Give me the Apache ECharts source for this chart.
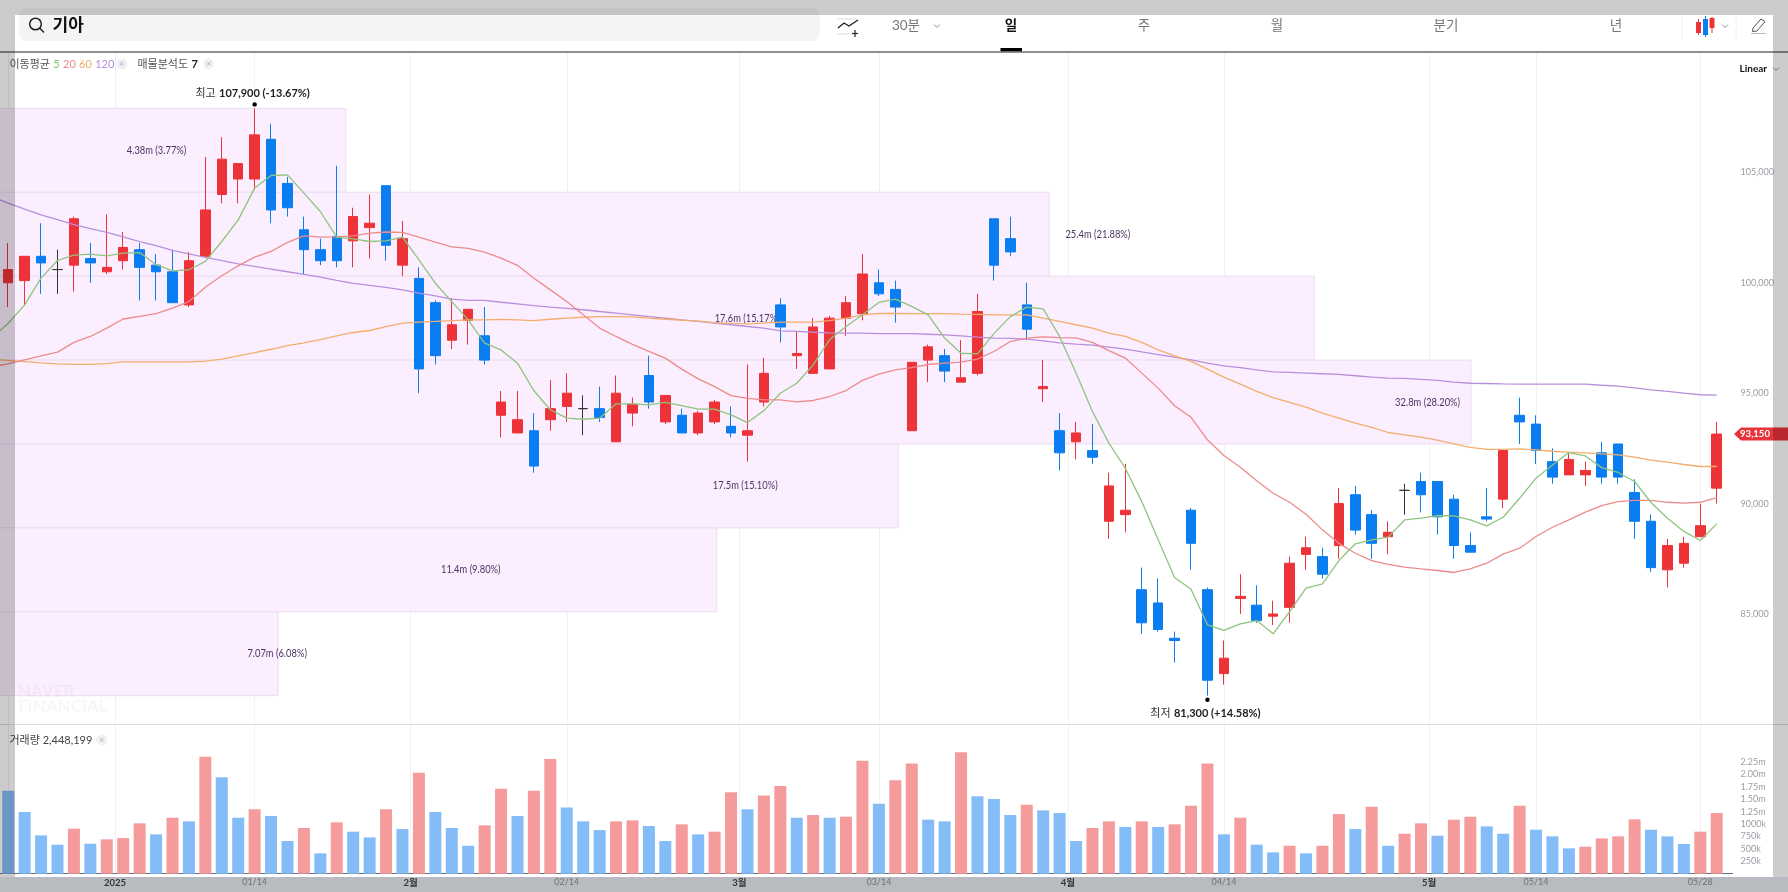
<!DOCTYPE html>
<html>
<head>
<meta charset="utf-8">
<title>기아</title>
<style>
	html, body { margin: 0; padding: 0; background: #fff; }
	#main { width: 1788px; height: 892px; }
</style>
<script src="https://cdn.jsdelivr.net/npm/echarts@6/dist/echarts.min.js"></script>
</head>
<body>
<div id="main"></div>
<script>
// 일봉 시가/종가/저가/고가
var candleOpen = [100000,100100,101200,100600,100800,101100,100500,101000,101500,100800,100500,99000,101200,104000,104700,104700,106500,104500,102400,101500,
	102100,101900,102500,104400,100800,100200,99100,97400,98300,97600,94000,93200,93300,93800,94400,94300,94300,92800,94100,95800,
	93700,94000,93200,93700,93500,93100,94600,99000,96700,95900,96100,98400,98600,100000,99700,93300,96500,96700,95500,95900,
	102900,102000,99000,95200,93300,92800,92400,89200,89500,86100,85500,83900,89700,86100,82300,85700,85400,84900,85300,87700,
	87600,88100,90400,89500,88500,90600,91000,91000,90200,88100,89400,90200,94000,93600,91900,91300,91300,92300,92700,90500,
	89200,87000,87300,88500,90700];
var candleClose = [100600,101200,100900,100600,102900,100900,100700,101600,100700,100500,99100,101000,103300,105600,105400,106700,103300,103400,101500,101000,
	101000,103000,102700,101700,102000,96100,96700,98100,98800,96500,94600,93800,91700,94300,95000,94300,93900,95000,94500,94600,
	94900,93200,94100,94600,93200,93300,95900,98000,96800,98000,98400,99100,100400,99500,98900,96400,97100,96000,95700,98700,
	100800,101400,97900,95300,92300,93200,92100,90800,89700,84600,84300,83800,88200,82000,83000,85800,84700,85000,87300,88000,
	86800,90000,88800,88200,88700,90600,90400,89400,88100,87800,89300,92400,93700,92400,91200,92000,91500,91200,91200,89200,
	87100,88100,88200,89000,93150];
var candleLow = [98900,99000,99500,99500,99600,100000,100400,100600,99200,99200,99100,98900,101200,103600,103600,104200,102700,103000,100400,100800,
	100700,100700,101100,101000,100300,95000,96300,97000,97200,96300,93000,93200,91400,93300,93700,93100,93700,92800,93500,94300,
	93600,93200,93100,93600,93000,91900,94400,97300,96100,95900,96100,97600,98300,99400,98200,93300,95500,95500,95500,95800,
	100100,101200,97400,94600,91500,92000,91800,88400,88700,84100,84200,82800,87000,81300,81800,85000,84600,84500,84600,87000,
	86600,87500,88600,87500,87700,89500,89600,88600,87500,87800,89200,89800,92700,91800,90900,91300,90800,90900,90900,88400,
	86900,86200,87100,88500,90000];
var candleHigh = [101800,101200,102700,101500,103000,101800,103100,102300,101800,101300,101500,101400,105700,106600,105400,107900,107200,104800,103000,102000,
	105300,103400,104000,104400,102800,100700,99200,99300,98800,98900,95100,95100,94100,95600,95900,94900,95300,95800,94800,96700,
	94900,94300,94200,94700,94400,96300,96600,99300,97800,98400,98500,99400,101300,100600,100100,96400,97200,97000,97400,99500,
	102900,103000,100000,96500,94100,93700,93600,91400,91800,87100,86600,84200,89800,86200,83800,86800,86300,85600,87600,88500,
	88000,90700,90800,89700,89200,90900,91400,91000,90400,88700,90700,92400,94800,94000,92500,92300,91900,92800,92700,91100,
	89500,88400,88500,90000,93700];

// 이동평균 5, 20, 60, 120 (첫 값은 화면 왼쪽 밖의 봉)
var ma5 = [97500,98170,99000,100210,101010,101250,101300,101220,101340,101370,100820,100540,100590,100970,101870,102850,104290,104860,104890,104060,103230,
	102070,101990,101870,101900,102070,101040,99980,99150,98320,97270,96960,96360,95110,94250,93870,93820,93870,94520,94520,94470,
	94580,94440,94280,94280,94020,93670,94210,95000,95450,96280,97420,98020,98550,99110,99260,98930,98550,97500,96810,96780,
	97700,98470,98900,98820,97570,95910,94170,92740,91600,90090,88360,86650,86120,84510,84260,84550,84700,84100,85110,86170,
	86360,87420,88180,88360,88480,89260,89340,89460,89440,89260,88990,89380,90240,91150,91750,92310,92160,91630,91410,91000,
	90050,89340,88740,88330,89080];
var ma20 = [96200,96330,96510,96690,96860,97300,97570,97950,98360,98480,98600,98850,99150,99800,100320,100770,101160,101420,101830,102130,102070,
	102080,102130,102250,102300,102280,102070,101840,101630,101560,101390,101120,100790,100210,99680,99150,98550,97950,97570,97210,96890,
	96590,96090,95650,95300,94890,94770,94700,94700,94610,94670,94850,95120,95580,95860,96060,96160,96300,96360,96410,96540,
	96890,97340,97490,97550,97520,97510,97300,96930,96590,95910,95230,94430,93910,92890,92180,91650,91030,90470,90060,89520,
	88810,88200,87750,87420,87250,87120,87040,86970,86880,87040,87300,87710,87980,88510,88930,89260,89610,89910,90090,90150,
	90150,90060,90020,90060,90270];
var ma60 = [96530,96480,96430,96370,96330,96310,96310,96340,96420,96420,96420,96420,96420,96450,96540,96690,96840,96990,97150,97280,97430,
	97600,97750,97840,98020,98170,98220,98250,98290,98320,98320,98340,98320,98290,98350,98400,98440,98470,98470,98460,98400,
	98350,98310,98260,98200,98160,98140,98170,98220,98220,98220,98290,98400,98550,98610,98610,98600,98600,98600,98580,98570,
	98550,98550,98550,98400,98250,98100,97950,97720,97570,97300,96960,96690,96440,96090,95730,95410,95080,94800,94590,94370,
	94100,93870,93640,93450,93220,93110,93010,92870,92710,92550,92460,92460,92480,92430,92370,92330,92300,92250,92210,92100,
	91970,91880,91770,91680,91680];
var ma120 = [103900,103610,103340,103080,102860,102630,102450,102280,102080,101860,101680,101470,101310,101150,101000,100860,100740,100620,100500,100380,100260,
	100110,99970,99880,99790,99680,99530,99410,99260,99200,99200,99120,99050,98970,98900,98840,98780,98700,98630,98550,98470,
	98400,98320,98250,98170,98100,98020,97950,97820,97800,97760,97730,97720,97720,97700,97700,97700,97670,97640,97600,97540,
	97490,97480,97450,97370,97280,97220,97180,97090,97000,96870,96750,96630,96510,96360,96240,96160,96060,95970,95940,95910,
	95880,95850,95790,95730,95680,95670,95630,95580,95500,95450,95440,95420,95410,95410,95410,95410,95410,95360,95320,95240,
	95150,95080,95000,94930,94910];

// 거래량, 막대 색 구분 (1 상승 / 0 하락)
var volume = [1673000,1243000,773000,585000,907000,605000,692000,719000,1015000,793000,1129000,1055000,2359000,1942000,1129000,1297000,1163000,659000,921000,410000,
	1035000,847000,732000,1297000,900000,2036000,1243000,921000,564000,974000,1714000,1163000,1673000,2312000,1337000,1055000,880000,1055000,1075000,961000,
	659000,995000,793000,847000,1640000,1297000,1579000,1767000,1129000,1183000,1129000,1149000,2278000,1411000,1882000,2224000,1089000,1055000,2446000,1559000,
	1505000,1183000,1391000,1277000,1223000,659000,921000,1055000,941000,1055000,941000,995000,1371000,2224000,793000,1129000,585000,430000,564000,410000,
	564000,1203000,900000,1351000,564000,806000,1015000,766000,1089000,1149000,954000,806000,1371000,887000,753000,511000,544000,712000,753000,1095000,
	887000,753000,598000,847000,1223000];
var volumeUp = [0,0,0,0,1,0,1,1,1,0,1,0,1,0,0,1,0,0,1,0,
	1,0,0,1,0,1,0,0,0,1,1,0,1,1,0,0,0,1,1,0,
	0,1,0,1,1,0,1,1,0,1,0,1,1,0,1,1,0,0,1,0,
	0,0,1,0,0,0,1,1,0,1,0,1,1,1,0,1,0,0,1,0,
	1,1,0,1,0,1,1,0,1,1,0,0,1,0,0,0,1,1,1,1,
	0,0,0,1,1];

// 축 눈금
var dateTicks = [6.5,15,24.5,34,44.5,53,64.5,74,86.5,93,103];
var dateLabels = ['2025','01/14','2월','02/14','3월','03/14','4월','04/14','5월','05/14','05/28'];
var priceTicks = [85000,90000,95000,100000,105000];
var priceLabels = ['85,000','90,000','95,000','100,000','105,000'];
var volumeTicks = [250000,500000,750000,1000000,1250000,1500000,1750000,2000000,2250000];
var volumeLabels = ['250k','500k','750k','1000k','1.25m','1.50m','1.75m','2.00m','2.25m'];

// 매물분석도 (가격 구간, 막대 끝, 라벨 위치, 라벨)
var profileLow = [104100,100300,96500,92700,88900,85100,81300];
var profileHigh = [107900,104100,100300,96500,92700,88900,85100];
var profileEnd = [20.55,63.37,79.5,89.04,54.18,43.13,16.43];
var profileLabelAt = [9.03,66.33,44.98,86.4,44.86,28.16,16.37];
var profileLabels = ['4.38m (3.77%)','25.4m (21.88%)','17.6m (15.17%)','32.8m (28.20%)','17.5m (15.10%)','11.4m (9.80%)','7.07m (6.08%)'];

var extremes = [[15,107900,'최고','107,900 (-13.67%)'],[73,81300,'최저','81,300 (+14.58%)']];
var lastPrice = [[104,93150,'93,150']];
var tabNames = ['30분','일','주','월','분기','년'];

var FONT = 'Lato, "Noto Sans CJK KR", sans-serif';
var xMin = -0.5;
var xMax = 104.96;

var chart = null;

init();

function init() {
	chart = echarts.init(document.getElementById('main'));
	chart.setOption(buildOption());
}

function buildOption() {
	var candles = candleOpen.map(function (o, i) {
		return [i, o, candleClose[i], candleLow[i], candleHigh[i]];
	});
	var volumeBars = volume.map(function (v, i) {
		return { value: [i, v], itemStyle: { color: volumeUp[i] ? '#f59b9c' : '#84bcf8' } };
	});
	var profile = profileLow.map(function (low, i) {
		return [low, profileHigh[i], profileEnd[i], profileLabelAt[i]];
	});

	return {
		animation: false,
		backgroundColor: '#fff',
		textStyle: { fontFamily: FONT },
		grid: [
			{ left: -1.32, right: 55.5, top: 51.7, height: 672.6 },
			{ left: -1.32, right: 55.5, top: 724.3, height: 149.4 }
		],
		xAxis: [
			dateAxis(0, false),
			dateAxis(1, true)
		],
		yAxis: [
			{
				gridIndex: 0, type: 'value', position: 'right', scale: true,
				min: 80004, max: 110467,
				splitLine: { show: false },
				axisLine: { show: true, lineStyle: { color: '#eceef1' } },
				axisTick: { show: true, length: 3, inside: false, customValues: priceTicks, lineStyle: { color: '#e0e2e6' } },
				axisLabel: {
					customValues: priceTicks, color: '#9a9da4', fontSize: 9, margin: 8, fontFamily: FONT,
					formatter: function (v) { return priceLabels[priceTicks.indexOf(v)]; }
				}
			},
			{
				gridIndex: 1, type: 'value', position: 'right',
				min: 0, max: 3012000,
				splitLine: { show: false },
				axisLine: { show: true, lineStyle: { color: '#eceef1' } },
				axisTick: { show: false, customValues: volumeTicks },
				axisLabel: {
					customValues: volumeTicks, color: '#9a9da4', fontSize: 9, margin: 8, fontFamily: FONT,
					formatter: function (v) { return volumeLabels[volumeTicks.indexOf(v)]; }
				}
			}
		],
		series: [
			{
				type: 'custom', name: '매물분석도', z: 1, xAxisIndex: 0, yAxisIndex: 0,
				data: profile, renderItem: renderProfile, silent: true
			},
			{
				type: 'candlestick', name: '기아', xAxisIndex: 0, yAxisIndex: 0, z: 3,
				barWidth: 10,
				data: candles,
				itemStyle: {
					color: '#ee3338', color0: '#0a7df0',
					borderColor: '#ee3338', borderColor0: '#0a7df0', borderColorDoji: '#333',
					borderWidth: 1
				}
			},
			maLine('MA120', ma120, '#b98fdc'),
			maLine('MA60', ma60, '#f4ad6d'),
			maLine('MA20', ma20, '#ec8b8c'),
			maLine('MA5', ma5, '#8fc47f'),
			{
				type: 'custom', name: '최고최저', z: 6, xAxisIndex: 0, yAxisIndex: 0,
				data: extremes, renderItem: renderExtreme, silent: true
			},
			{
				type: 'custom', name: '현재가', z: 7, xAxisIndex: 0, yAxisIndex: 0,
				data: lastPrice, renderItem: renderLastPrice, silent: true
			},
			{
				type: 'bar', name: '거래량', xAxisIndex: 1, yAxisIndex: 1, z: 2,
				barWidth: 12,
				data: volumeBars
			}
		],
		graphic: { elements: buildHeader().concat(buildLegends(), buildOverlay()) }
	};
}

function dateAxis(gridIndex, showLabel) {
	return {
		gridIndex: gridIndex, type: 'value', min: xMin, max: xMax,
		splitLine: { show: true, lineStyle: { color: '#f1f2f5', width: 1 } },
		axisLine: { show: showLabel, onZero: false, lineStyle: { color: '#66707c', width: 1 } },
		axisTick: { show: false, customValues: dateTicks },
		axisLabel: {
			show: showLabel, customValues: dateTicks, margin: 4, fontSize: 9, color: '#8c8f94', fontFamily: FONT,
			formatter: function (v) {
				var s = dateLabels[dateTicks.indexOf(v)];
				return s.indexOf('/') > 0 ? s : '{b|' + s + '}';
			},
			rich: { b: { fontWeight: 'bold', color: '#444', fontSize: 9.5, fontFamily: FONT } }
		}
	};
}

function maLine(name, values, color) {
	return {
		type: 'line', name: name, xAxisIndex: 0, yAxisIndex: 0, z: 4,
		symbol: 'none', smooth: false,
		lineStyle: { color: color, width: 1.3 },
		data: values.map(function (v, i) { return [i - 1, v]; })
	};
}

function renderProfile(params, api) {
	var low = api.value(0), high = api.value(1);
	var tl = api.coord([xMin, high]);
	var br = api.coord([api.value(2), low]);
	var c = api.coord([api.value(3), (low + high) / 2]);
	return {
		type: 'group',
		children: [
			{
				type: 'rect',
				shape: { x: tl[0] - 2, y: tl[1], width: br[0] - tl[0] + 2, height: br[1] - tl[1] },
				style: { fill: '#fbeefe', stroke: '#eddcf3', lineWidth: 1 }
			},
			{
				type: 'text', x: c[0], y: c[1], scaleX: 0.85,
				style: {
					text: profileLabels[params.dataIndex], fill: '#4f3564', font: '11px ' + FONT,
					align: 'center', verticalAlign: 'middle'
				}
			}
		]
	};
}

function renderExtreme(params, api) {
	var p = api.coord([api.value(0), api.value(1)]);
	var row = extremes[params.dataIndex];
	var isTop = params.dataIndex === 0;
	return {
		type: 'group',
		children: [
			{ type: 'circle', shape: { cx: p[0], cy: p[1] + (isTop ? -4 : 4), r: 2.2 }, style: { fill: '#000' } },
			{
				type: 'text', x: p[0] - 2, y: p[1] + (isTop ? -15 : 18),
				style: {
					text: '{a|' + row[2] + '} {b|' + row[3] + '}',
					align: 'center', verticalAlign: 'middle',
					rich: {
						a: { font: '11px ' + FONT, fill: '#333' },
						b: { font: 'bold 11px ' + FONT, fill: '#222' }
					}
				}
			}
		]
	};
}

function renderLastPrice(params, api) {
	var y = api.coord([xMax, api.value(1)]);
	var x0 = y[0] + 1.5;
	return {
		type: 'group',
		children: [
			{
				type: 'polygon',
				shape: { points: [[x0, y[1]], [x0 + 7, y[1] - 6.5], [1790, y[1] - 6.5], [1790, y[1] + 6.5], [x0 + 7, y[1] + 6.5]] },
				style: { fill: '#e9333a' }
			},
			{
				type: 'text', x: x0 + 21, y: y[1],
				style: { text: lastPrice[0][2], fill: '#fff', font: 'bold 9.5px ' + FONT, align: 'center', verticalAlign: 'middle' }
			}
		]
	};
}

function txt(x, y, text, font, fill, align) {
	return {
		type: 'text', x: x, y: y, z: 50,
		style: { text: text, font: font + ' ' + FONT, fill: fill, align: align || 'center', verticalAlign: 'middle' }
	};
}

function ln(x1, y1, x2, y2, color, w) {
	return { type: 'line', z: 50, shape: { x1: x1, y1: y1, x2: x2, y2: y2 }, style: { stroke: color, lineWidth: w || 1 } };
}

function chevron(x, y, color) {
	return { type: 'polyline', z: 50, shape: { points: [[x - 3, y - 1.5], [x, y + 1.5], [x + 3, y - 1.5]] }, style: { stroke: color, fill: null, lineWidth: 1 } };
}

function buildHeader() {
	var tabX = [906, 1011, 1144, 1277, 1446, 1616];
	var list = [
		{ type: 'rect', z: 40, shape: { x: 19, y: 8, width: 801, height: 33, r: 8 }, style: { fill: '#f3f4f6' } },
		{ type: 'circle', z: 50, shape: { cx: 35.5, cy: 24, r: 5.8 }, style: { stroke: '#222', fill: null, lineWidth: 1.5 } },
		ln(39.8, 28.3, 44, 32.5, '#222', 1.5),
		txt(52.5, 26, '기아', 'bold 17px', '#111', 'left'),
		// 비교 차트 아이콘
		{ type: 'polyline', z: 50, shape: { points: [[838, 28], [844, 23], [849, 26], [858, 20]] }, style: { stroke: '#222', fill: null, lineWidth: 1.4 } },
		ln(837, 19, 858, 19, '#ddd'),
		ln(837, 34, 851, 34, '#ddd'),
		ln(855, 37, 855, 30, '#222', 1.2),
		ln(852, 33.5, 858, 33.5, '#222', 1.2),
		chevron(937, 26, '#8d9096'),
		{ type: 'rect', z: 50, shape: { x: 1000.5, y: 48, width: 21.5, height: 3.6 }, style: { fill: '#000' } },
		// 봉 차트 아이콘
		ln(1682, 15, 1682, 40, '#f1f2f4'),
		ln(1736, 15, 1736, 40, '#f1f2f4'),
		ln(1698.5, 19, 1698.5, 35, '#ee3338'),
		{ type: 'rect', z: 50, shape: { x: 1696, y: 22, width: 5, height: 11 }, style: { fill: '#ee3338' } },
		ln(1705.5, 16, 1705.5, 37, '#0a7df0'),
		{ type: 'rect', z: 50, shape: { x: 1703, y: 19, width: 5, height: 16 }, style: { fill: '#0a7df0' } },
		ln(1712, 17, 1712, 33, '#ee3338'),
		{ type: 'rect', z: 50, shape: { x: 1709.5, y: 18, width: 5, height: 10 }, style: { fill: '#ee3338' } },
		chevron(1725, 26, '#8d9096'),
		// 연필 아이콘
		{ type: 'polygon', z: 50, shape: { points: [[1753, 28], [1761, 19], [1765, 21.5], [1757, 31], [1752.5, 31.5]] }, style: { stroke: '#555', fill: null, lineWidth: 1 } },
		ln(1751, 33.5, 1766, 33.5, '#bbb'),
		// 상단 구분선
		ln(0, 52, 1788, 52, '#6a6a6a', 1.6),
		txt(1739.5, 68.5, 'Linear', 'bold 10px', '#111', 'left'),
		chevron(1776, 69, '#8d9096')
	];
	tabNames.forEach(function (name, i) {
		var on = name === '일';
		list.push(txt(tabX[i], 26, name, (on ? 'bold ' : '') + '13.5px', on ? '#111' : '#777'));
	});
	return list;
}

function chip(x, y) {
	return [
		{ type: 'circle', z: 50, shape: { cx: x, cy: y, r: 5.5 }, style: { fill: '#f0f1f3' } },
		txt(x, y, '×', '9px', '#b0b3b8')
	];
}

function buildLegends() {
	var list = [
		{
			type: 'text', x: 9.5, y: 64, z: 50,
			style: {
				text: '{t|이동평균} {g|5} {r|20} {o|60} {p|120}',
				verticalAlign: 'middle', align: 'left',
				rich: {
					t: { font: '11px ' + FONT, fill: '#555' },
					g: { font: '11px ' + FONT, fill: '#7dc168' },
					r: { font: '11px ' + FONT, fill: '#ef8a8b' },
					o: { font: '11px ' + FONT, fill: '#f2ac66' },
					p: { font: '11px ' + FONT, fill: '#b48ede' }
				}
			}
		},
		{
			type: 'text', x: 137.5, y: 64, z: 50,
			style: {
				text: '{t|매물분석도} {b|7}',
				verticalAlign: 'middle', align: 'left',
				rich: {
					t: { font: '11px ' + FONT, fill: '#555' },
					b: { font: 'bold 11px ' + FONT, fill: '#222' }
				}
			}
		},
		txt(9.5, 740, '거래량 2,448,199', '11px', '#444', 'left'),
		// 워터마크
		txt(18, 692, 'NAVER', 'bold 17px', 'rgba(120,110,140,0.06)', 'left'),
		txt(18, 706.5, 'FINANCIAL', 'bold 17px', 'rgba(120,110,140,0.06)', 'left'),
		// 패널 구분선
		ln(0, 724.5, 1788, 724.5, '#dcdde4', 1.2),
		{ type: 'rect', z: -1, shape: { x: 0, y: 877, width: 1788, height: 15 }, style: { fill: '#e6eaef' } }
	];
	return list.concat(chip(121.7, 64), chip(208.5, 64), chip(101.5, 740));
}

// 모달 뒤 어두운 영역
function buildOverlay() {
	var dim = 'rgba(0,0,0,0.2)';
	var boxes = [[0, 0, 1788, 15], [0, 15, 15, 877], [1773, 15, 15, 877], [15, 877, 1758, 15]];
	return boxes.map(function (b) {
		return { type: 'rect', z: 100, shape: { x: b[0], y: b[1], width: b[2], height: b[3] }, style: { fill: dim } };
	});
}
</script>
</body>
</html>
